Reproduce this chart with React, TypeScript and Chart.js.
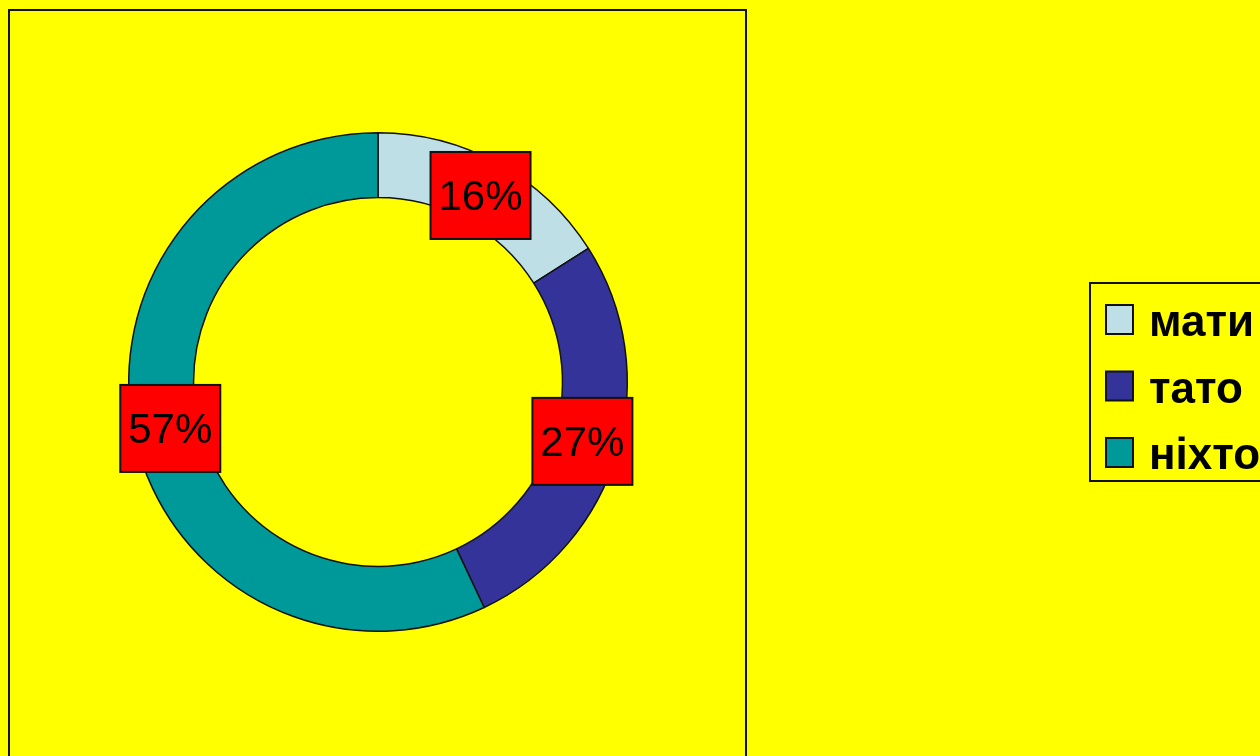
import React, { useEffect, useRef } from "react";
import { Chart, registerables } from "chart.js";

Chart.register(...registerables);

const categories = ["мати", "тато", "ніхто"];
const percentValues = [16, 27, 57];
const sliceColors = ["#BEDFE6", "#333399", "#009999"];

const framePlugin = {
  id: "frame",
  beforeDraw(chart: any) {
    const ctx = chart.ctx;
    ctx.save();
    ctx.fillStyle = "#FFFF00";
    ctx.fillRect(0, 0, chart.width, chart.height);
    ctx.strokeStyle = "#111111";
    ctx.lineWidth = 2;
    ctx.strokeRect(9, 10, 737, 760);
    ctx.restore();
  },
};

const labelPlugin = {
  id: "pctLabels",
  afterDatasetsDraw(chart: any) {
    const ctx = chart.ctx;
    const meta = chart.getDatasetMeta(0);
    const vals = chart.data.datasets[0].data;
    ctx.save();
    meta.data.forEach((arc: any, i: number) => {
      const props = arc.getProps(["x", "y", "startAngle", "endAngle", "innerRadius", "outerRadius"], false);
      const mid = (props.startAngle + props.endAngle) / 2;
      const r = (props.innerRadius + props.outerRadius) / 2 - 4;
      const cx = props.x + Math.cos(mid) * r;
      const cy = props.y + Math.sin(mid) * r;
      const w = 100;
      const h = 87;
      ctx.fillStyle = "#FF0000";
      ctx.fillRect(cx - w / 2, cy - h / 2, w, h);
      ctx.strokeStyle = "#111111";
      ctx.lineWidth = 2;
      ctx.strokeRect(cx - w / 2, cy - h / 2, w, h);
      ctx.fillStyle = "#000000";
      ctx.font = '42px "Liberation Sans", Arial, sans-serif';
      ctx.textAlign = "center";
      ctx.textBaseline = "middle";
      ctx.fillText(vals[i] + "%", cx, cy + 3);
    });
    ctx.restore();
  },
};

const legendPlugin = {
  id: "customLegend",
  afterDraw(chart: any) {
    const ctx = chart.ctx;
    const labels = chart.data.labels;
    const colors = chart.data.datasets[0].backgroundColor;
    ctx.save();
    ctx.strokeStyle = "#111111";
    ctx.lineWidth = 2;
    ctx.strokeRect(1090, 283, 200, 198);
    ctx.font = 'bold 44px "Liberation Sans", Arial, sans-serif';
    ctx.textAlign = "left";
    ctx.textBaseline = "alphabetic";
    labels.forEach((lab: string, i: number) => {
      const base = 336 + i * 66.5;
      const sy = base - 31;
      ctx.fillStyle = colors[i];
      ctx.fillRect(1106, sy, 27, 29);
      ctx.lineWidth = 2;
      ctx.strokeStyle = "#111111";
      ctx.strokeRect(1106, sy, 27, 29);
      ctx.fillStyle = "#000000";
      ctx.fillText(lab, 1149, base);
    });
    ctx.restore();
  },
};

export default function App() {
  const ref = useRef<HTMLCanvasElement>(null);
  useEffect(() => {
    document.body.style.margin = "0";
    document.body.style.background = "#FFFF00";
    const chart = new Chart(ref.current!, {
      type: "doughnut",
      data: {
        labels: categories,
        datasets: [
          {
            data: percentValues,
            backgroundColor: sliceColors,
            borderColor: "#111111",
            borderWidth: 1.5,
          },
        ],
      },
      options: {
        animation: false,
        responsive: false,
        cutout: "74%",
        layout: { padding: { left: 128, right: 632, top: 131, bottom: 123 } },
        plugins: {
          legend: { display: false },
          tooltip: { enabled: false },
        },
      },
      plugins: [framePlugin, labelPlugin, legendPlugin],
    });
    return () => chart.destroy();
  }, []);
  return (
    <div style={{ width: 1260, height: 756 }}>
      <canvas ref={ref} width={1260} height={756} style={{ display: "block" }} />
    </div>
  );
}
